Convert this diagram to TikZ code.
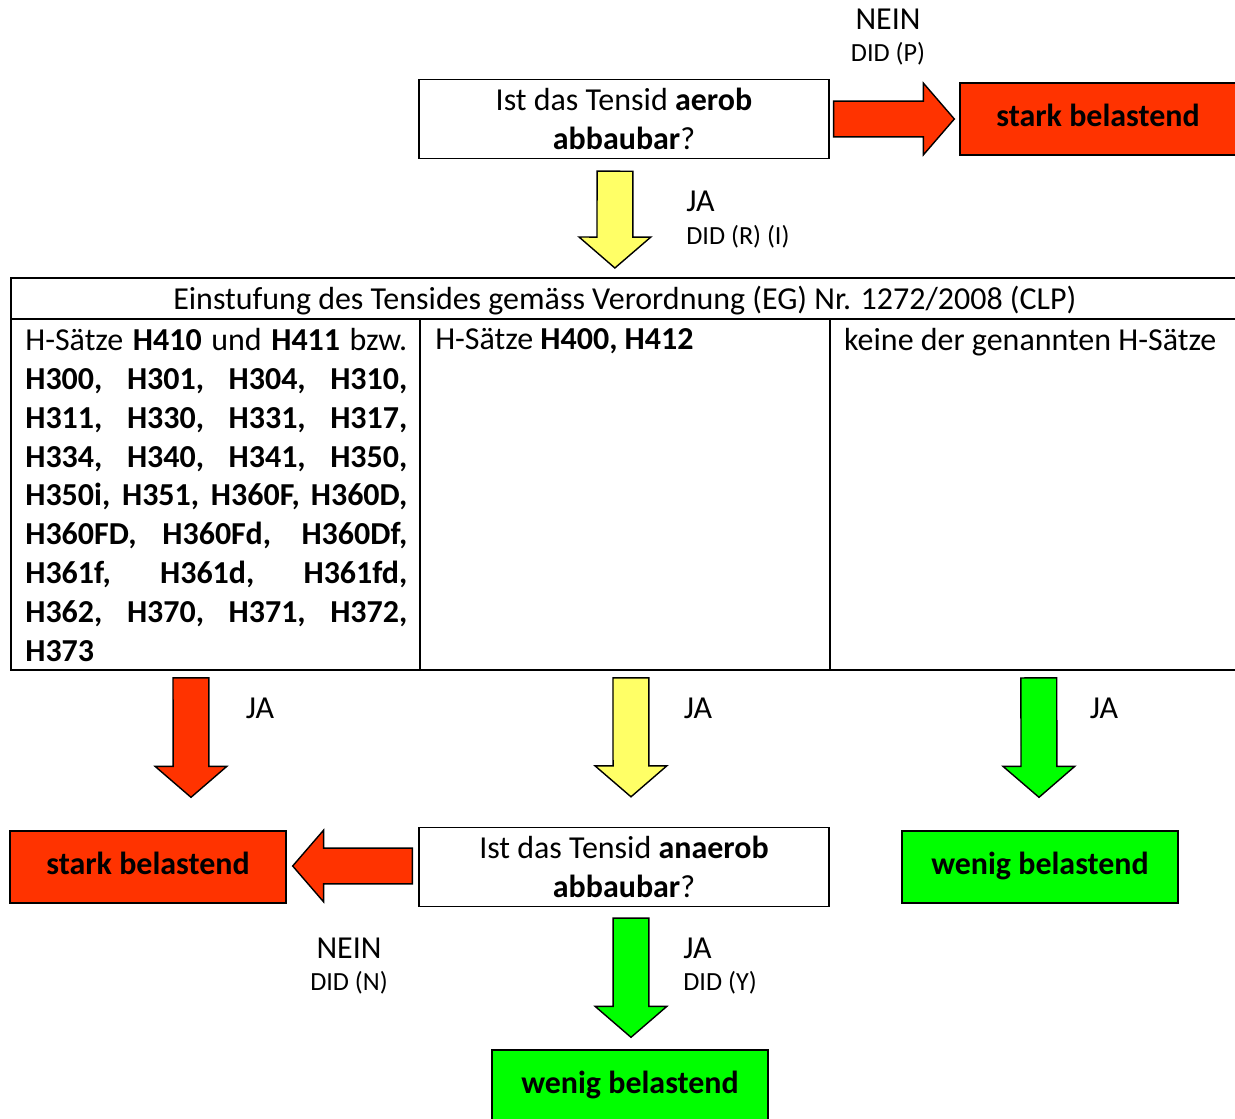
\documentclass[tikz,border=0pt]{standalone}
\usepackage{fontspec}
\setmainfont{Carlito}
\usetikzlibrary{positioning,calc}
\definecolor{starkred}{RGB}{255,51,0}
\definecolor{jayellow}{RGB}{255,255,102}
\definecolor{weniggreen}{RGB}{0,255,0}
\newcommand{\txtfs}{\fontsize{18.2pt}{22.1pt}\selectfont}
\newcommand{\didfs}{\fontsize{14.9pt}{18pt}\selectfont}
\tikzset{fatarrow/.pic={
  \draw[pic actions] (0pt,-10.2pt) -- (#1-17.6pt,-10.2pt) -- (#1-17.6pt,-20.4pt) -- (#1+0pt,0pt)
    -- (#1-17.6pt,20.4pt) -- (#1-17.6pt,10.2pt) -- (0pt,10.2pt) -- cycle;}}
\newcommand{\blockarrow}[3]{\path let \p1=#2, \p2=#3, \n1={veclen(\x2-\x1,\y2-\y1)}, \n2={atan2(\y2-\y1,\x2-\x1)} in
  pic[fill=#1, draw, line width=0.8pt, rotate=\n2] at (\p1) {fatarrow=\n1};}

\begin{document}
\begin{tikzpicture}[x=0.02cm,y=-0.02cm] % one unit is one pixel, y grows downwards
\tikzset{every node/.style={font=\txtfs, inner sep=0pt}}
\tikzset{question/.style={draw, line width=0.8pt, minimum width=8.2cm, minimum height=1.58cm, align=center}}
\tikzset{verdict/.style={draw, line width=0.8pt, minimum width=5.52cm, minimum height=1.44cm, text height=11pt, text depth=3pt, font=\txtfs\bfseries}}
\tikzset{cell/.style={draw, line width=1.5pt, outer sep=0pt, anchor=north west, minimum height=7.02cm}}
\tikzset{celltext/.style={anchor=north west, text width=7.64cm, align=justify}}
\tikzset{did/.style={font=\didfs}}
\path[use as bounding box, clip] (0,0) rectangle (1235,1119);

% questions and verdicts
\node[question] (q1) at (624,119) {Ist das Tensid \textbf{aerob}\\\textbf{abbaubar}?};
\node[verdict, fill=starkred] (s1) at (1098,119) {stark belastend};
\node[question] (q2) at (624,867) {Ist das Tensid \textbf{anaerob}\\\textbf{abbaubar}?};
\node[verdict, fill=starkred] (s2) at (148,867) {stark belastend};
\node[verdict, fill=weniggreen] (w1) at (1040,867) {wenig belastend};
\node[verdict, fill=weniggreen] (w2) at (630,1086) {wenig belastend};

% table
\node[cell, minimum width=24.56cm, minimum height=0.82cm, text height=14pt, text depth=1.8pt] (hdr) at (11,278) {Einstufung des Tensides gemäss Verordnung (EG) Nr. 1272/2008 (CLP)};
\node[cell, minimum width=8.18cm] (c1) at (hdr.south west) {};
\node[cell, minimum width=8.2cm] (c2) at (c1.north east) {};
\node[cell, minimum width=8.2cm] (c3) at (c2.north east) {};
\node[celltext] (t1) at ($(c1.north west)+(14,9)$) {H-Sätze \textbf{H410} und \textbf{H411} bzw.\linebreak
  \textbf{H300, H301, H304, H310,}\linebreak
  \textbf{H311, H330, H331, H317,}\linebreak
  \textbf{H334, H340, H341, H350,}\linebreak
  \textbf{H350i, H351, H360F, H360D,}\linebreak
  \textbf{H360FD, H360Fd, H360Df,}\linebreak
  \textbf{H361f, H361d, H361fd,}\linebreak
  \textbf{H362, H370, H371, H372,}\linebreak
  \textbf{H373}};
\node[celltext] (t2) at ($(c2.north west)+(15,9)$) {H-Sätze \textbf{H400, H412}};
\node[celltext] (t3) at ($(c3.north west)+(14,9)$) {keine der genannten H-Sätze};

% block arrows
\blockarrow{starkred}{($(q1.east)+(4,0)$)}{($(s1.west)+(-5,0)$)}
\blockarrow{jayellow}{($(q1.south)+(-9,12)$)}{($(hdr.north)+(-10,-10)$)}
\blockarrow{starkred}{($(c1.south)+(-24.5,8)$)}{($(s2.north)+(43,-33)$)}
\blockarrow{jayellow}{($(c2.south)+(6,8)$)}{($(q2.north)+(7,-30)$)}
\blockarrow{weniggreen}{($(c3.south)+(4,8)$)}{($(w1.north)+(-1,-33)$)}
\blockarrow{starkred}{($(q2.west)+(-6,-1)$)}{($(s2.east)+(6,-1)$)}
\blockarrow{weniggreen}{($(q2.south)+(7,11)$)}{($(w2.north)+(1,-12)$)}

% labels
\node (nein1) at (888,19) {NEIN};
\node[did] (didp) at (888,54) {DID (P)};
\node[anchor=west] (ja1) at (686,201) {JA};
\node[did, anchor=west] (didri) at (686,237) {DID (R) (I)};
\node (ja2) at (260,708) {JA};
\node (ja3) at (698,708) {JA};
\node (ja4) at (1104,708) {JA};
\node (nein2) at (349,948) {NEIN};
\node[did] (didn) at (349,983) {DID (N)};
\node[anchor=west] (ja5) at (683,948) {JA};
\node[did, anchor=west] (didy) at (683,983) {DID (Y)};
\end{tikzpicture}
\end{document}
